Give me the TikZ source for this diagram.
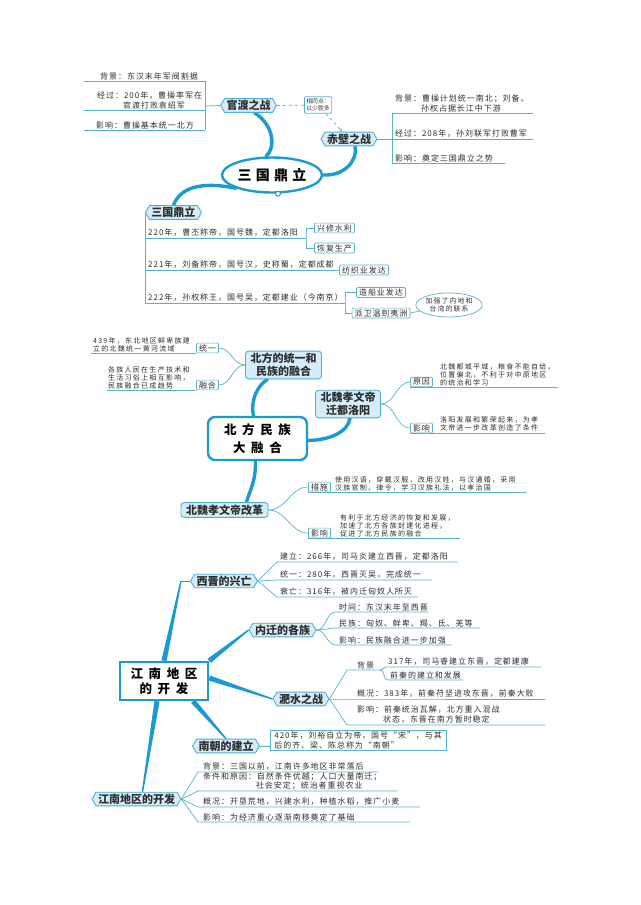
\documentclass[tikz,border=0pt]{standalone}
\usepackage{fontspec}
\setmainfont{Noto Sans CJK SC}
\newfontfamily\cjkn[LetterSpace=12]{Noto Sans CJK SC}
\newfontfamily\cjkm[LetterSpace=18]{Noto Sans CJK SC}
\newfontfamily\cjka[LetterSpace=30]{Noto Sans CJK SC}
\newfontfamily\cjkb[LetterSpace=45]{Noto Sans CJK SC}
\usepackage{tikz}
\usetikzlibrary{arrows.meta,positioning,calc,backgrounds,shapes.geometric,shapes.symbols}
\definecolor{boughc}{HTML}{1B9AD4}
\definecolor{twigc}{HTML}{5AB2C8}
\definecolor{edgec}{HTML}{4FAED3}
\definecolor{fillc}{HTML}{D4EDF8}
\definecolor{inkc}{HTML}{2E2E2E}
% tapering bough: from #1 (half width #3) to #2 (half width #4)
\newcommand{\drawlimb}[4]{\fill[boughc] ($(#1)!#3!90:(#2)$) -- ($(#2)!#4!-90:(#1)$)
  -- ($(#2)!#4!90:(#1)$) -- ($(#1)!#3!-90:(#2)$) -- cycle;}

\begin{document}
\begin{tikzpicture}[x=1pt, y=-1pt,
  twig/.style={draw=twigc, line width=0.7pt},
  bough/.style={draw=boughc, line width=3.4pt, line cap=round},
  hub/.style={draw=boughc, line width=2.4pt, fill=white, text=black, align=center, inner sep=0pt},
  topic/.style={signal, signal to=west and east, signal pointer angle=120, draw=edgec, fill=fillc,
    line width=0.9pt, text=inkc, inner xsep=2pt, inner ysep=1.5pt, font=\bfseries\fontsize{11}{13}\selectfont},
  topicbox/.style={rounded corners=3pt, draw=edgec, fill=fillc, line width=0.9pt, text=inkc,
    align=center, inner xsep=5pt, inner ysep=2pt, font=\bfseries\fontsize{11}{13}\selectfont},
  tagbox/.style={draw=twigc, fill=white, line width=0.7pt, rounded corners=1pt, text=inkc,
    inner xsep=2.5pt, inner ysep=1.2pt, font=\cjkn\fontsize{8}{9.5}\selectfont},
  note/.style={anchor=south west, inner sep=0pt, align=left, text=inkc, font=\cjkn\fontsize{8}{10}\selectfont},
  smallnote/.style={note, font=\cjkm\fontsize{7}{8}\selectfont},
]
\useasboundingbox (0,0) rectangle (640,905);

% ---- part 1 : 三国鼎立 ----
\node[hub, ellipse, minimum width=100pt, minimum height=35pt, font=\cjka\bfseries\fontsize{14}{16}\selectfont] (sg) at (272,175) {三国鼎立};
\node[circle, draw=boughc, fill=white, line width=1pt, minimum size=5pt, inner sep=0pt] (sgknob) at ([xshift=6pt]sg.south) {};

\node[topic] (gd) at (248.5,105.5) {官渡之战};
\node[topic] (cb) at (349,139) {赤壁之战};
\node[tagbox, align=left, inner sep=2pt, font=\fontsize{5.8}{7}\selectfont] (same) at (318,105) {相同点：\\以少胜多};
\draw[twig, dashed] (gd.east) -- (same);
\draw[twig, dashed, -{Stealth[length=4pt,width=3pt]}] (same) -- (cb);

% left bracket of 官渡之战
\coordinate (gdv) at (205,106);
\draw[twig] (gd.west) -- (gdv);
\draw[twig] (205,81) -- (205,130);
\foreach \y in {81,110,130}{\draw[twig] (205,\y) -- ++(-121,0);}
\node[note] (gdn1) at (100,80) {背景：东汉末年军阀割据};
\node[note] (gdn2) at (97,109) {经过：200年，曹操率军在\\\phantom{经过：}官渡打败袁绍军};
\node[note] (gdn3) at (96,129) {影响：曹操基本统一北方};

% right bracket of 赤壁之战
\coordinate (cbv) at (392,139);
\draw[twig] (cb.east) -- (cbv);
\draw[twig] (392,113) -- (392,163);
\draw[twig] (392,113) -- ++(141,0);
\draw[twig] (cbv) -- ++(141,0);
\draw[twig] (392,163) -- ++(113,0);
\node[note] (cbn1) at (395,112) {背景：曹操计划统一南北；刘备、\\\phantom{背景：}孙权占据长江中下游};
\node[note] (cbn2) at (395,138) {经过：208年，孙刘联军打败曹军};
\node[note] (cbn3) at (395,162) {影响：奠定三国鼎立之势};

% the three states
\coordinate (sgL) at (145,212.5);
\node[topic, anchor=west] (sgb) at (sgL) {三国鼎立};
\draw[twig] (sgL) -- (145,303);

\coordinate (b220) at (306,238);
\node[tagbox] (sl) at (334.5,228) {兴修水利};
\node[tagbox] (hf) at (334.5,248) {恢复生产};
\draw[twig] (145,238) -- (b220);
\draw[twig] (sl.west) -| (b220) |- (hf.west);
\node[note] (y220) at (148,237) {220年，曹丕称帝，国号魏，定都洛阳};

\node[tagbox] (fz) at (364,270) {纺织业发达};
\draw[twig] (145,270) -- (fz.west);
\node[note] (y221) at (148,269) {221年，刘备称帝，国号汉，史称蜀，定都成都};

\coordinate (b222) at (345,303);
\node[tagbox] (zc) at (381,292.5) {造船业发达};
\node[tagbox] (wy) at (381,313) {派卫温到夷洲};
\draw[twig] (145,303) -- (b222);
\draw[twig] (zc.west) -| (b222) |- (wy.west);
\node[note] (y222) at (148,302) {222年，孙权称王，国号吴，定都建业（今南京）};
\node[ellipse, draw=twigc, line width=0.7pt, fill=white, inner sep=0pt, minimum width=63pt, minimum height=24pt,
  align=center, text=inkc, font=\cjkm\fontsize{6.8}{8.5}\selectfont] (lx) at (449,305) {加强了内地和\\台湾的联系};
\draw[twig] (wy.east) -- (lx);

% ---- part 2 : 北方民族大融合 ----
\node[hub, rounded corners=7pt, minimum width=99pt, minimum height=43pt, font=\cjkb\bfseries\fontsize{12.5}{18}\selectfont] (bf) at (257.5,438.5) {北方民族\\大融合};

\node[topicbox] (tr) at (283.5,365) {北方的统一和\\民族的融合};
\node[tagbox] (ty) at (207.5,348) {统一};
\node[tagbox] (rh) at (207.5,385) {融合};
\draw[twig] (ty.east) to[out=0,in=180] (tr.west);
\draw[twig] (rh.east) to[out=0,in=180] (tr.west);
\draw[twig] (ty.south west) -- ++(-105,0);
\draw[twig] (rh.south west) -- ++(-89,0);
\node[smallnote] (tyn) at (93,352.5) {439年，东北地区鲜卑族建\\立的北魏统一黄河流域};
\node[smallnote] (rhn) at (108,389.5) {各族人民在生产技术和\\生活习俗上相互影响，\\民族融合已成趋势};

\node[topicbox] (qd) at (348,404) {北魏孝文帝\\迁都洛阳};
\node[tagbox] (yy) at (421.5,382) {原因};
\node[tagbox] (yxa) at (421.5,428) {影响};
\draw[twig] (qd.east) to[out=0,in=180] (yy.west);
\draw[twig] (qd.east) to[out=0,in=180] (yxa.west);
\draw[twig] (yy.south west) -- ++(148,0);
\draw[twig] (yxa.south west) -- ++(135,0);
\node[smallnote] (yyn) at (440,386) {北魏都城平城，粮食不能自给，\\位置偏北，不利于对中原地区\\的统治和学习};
\node[smallnote] (yxan) at (440,431.5) {洛阳发展和繁荣起来，为孝\\文帝进一步改革创造了条件};

\node[topicbox] (gg) at (224.5,510) {北魏孝文帝改革};
\node[tagbox] (cs) at (319.5,487) {措施};
\node[tagbox] (yxb) at (319.5,533) {影响};
\draw[twig] (gg.east) to[out=0,in=180] (cs.west);
\draw[twig] (gg.east) to[out=0,in=180] (yxb.west);
\draw[twig] (cs.south west) -- ++(218,0);
\draw[twig] (yxb.south west) -- ++(152,0);
\node[smallnote] (csn) at (335,491) {使用汉语，穿戴汉服，改用汉姓，与汉通婚，采用\\汉族官制、律令，学习汉族礼法，以孝治国};
\node[smallnote] (yxbn) at (340,537) {有利于北方经济的恢复和发展，\\加速了北方各族封建化进程，\\促进了北方民族的融合};

% ---- part 3 : 江南地区的开发 ----
\node[hub, rectangle, minimum width=88pt, minimum height=38pt, font=\cjkb\bfseries\fontsize{12.5}{15}\selectfont] (jn) at (164,681) {江南地区\\的开发};

\node[topic] (xj) at (224,581) {西晋的兴亡};
\node[topic] (nq) at (282.5,630) {内迁的各族};
\node[topic] (fs) at (301,699) {淝水之战};
\node[topic] (nc) at (226,746) {南朝的建立};
\node[topic] (kf) at (136.5,799) {江南地区的开发};

% 西晋的兴亡
\coordinate (xa) at (277,562);
\coordinate (xb) at (277,580);
\coordinate (xc) at (277,597);
\draw[twig] (xj.east) -- (xa) -- ++(181,0);
\draw[twig] (xj.east) -- (xb) -- ++(155,0);
\draw[twig] (xj.east) -- (xc) -- ++(141,0);
\node[note] (xan) at (280,561) {建立：266年，司马炎建立西晋，定都洛阳};
\node[note] (xbn) at (280,579) {统一：280年，西晋灭吴，完成统一};
\node[note] (xcn) at (280,596) {衰亡：316年，被内迁匈奴人所灭};

% 内迁的各族
\coordinate (nqa) at (336,612);
\coordinate (nqb) at (336,628);
\coordinate (nqc) at (336,645);
\draw[twig] (nq.east) to[out=0,in=180] (nqa) -- ++(92,0);
\draw[twig] (nq.east) to[out=0,in=180] (nqb) -- ++(144,0);
\draw[twig] (nq.east) to[out=0,in=180] (nqc) -- ++(116,0);
\node[note] (nqan) at (339,611) {时间：东汉末年至西晋};
\node[note] (nqbn) at (339,627) {民族：匈奴、鲜卑、羯、氐、羌等};
\node[note] (nqcn) at (339,644) {影响：民族融合进一步加强};

% 淝水之战
\coordinate (fa) at (347,670);
\coordinate (fbk) at (380,670);
\coordinate (fk1) at (386,667);
\coordinate (fk2) at (388,680);
\coordinate (fb) at (347,699);
\coordinate (fc) at (347,725);
\draw[twig] (fs.east) -- (fa) -- (fbk);
\draw[twig] (fbk) to[out=0,in=180] (fk1) -- ++(155,0);
\draw[twig] (fbk) to[out=0,in=180] (fk2) -- ++(75,0);
\draw[twig] (fs.east) -- (fb) -- ++(198,0);
\draw[twig] (fs.east) -- (fc) -- ++(198,0);
\node[note] (fan) at (357,669) {背景};
\node[note] (fk1n) at (388,666) {317年，司马睿建立东晋，定都建康};
\node[note] (fk2n) at (390,679) {前秦的建立和发展};
\node[note] (fbn) at (357,698) {概况：383年，前秦苻坚进攻东晋，前秦大败};
\node[note] (fcn) at (357,724) {影响：前秦统治瓦解，北方重入混战\\\phantom{影响：}状态，东晋在南方暂时稳定};

% 南朝的建立
\node[draw=twigc, line width=0.7pt, fill=white, anchor=west, align=left, inner xsep=4pt, inner ysep=1.5pt,
  text=inkc, font=\cjkn\fontsize{8}{9.5}\selectfont] (ncb) at (270,740.5) {420年，刘裕自立为帝，国号“宋”，与其\\后的齐、梁、陈总称为“南朝”};
\draw[twig] (nc.east) -- (nc.east -| ncb.west);

% 江南地区的开发
\coordinate (ka) at (198,772);
\coordinate (kb) at (198,791);
\coordinate (kc) at (198,807);
\coordinate (kd) at (198,822);
\draw[twig] (kf.east) -- (ka) -- ++(180,0);
\draw[twig] (kf.east) -- (kb) -- ++(199,0);
\draw[twig] (kf.east) -- (kc) -- ++(222,0);
\draw[twig] (kf.east) -- (kd) -- ++(212,0);
\node[note] (kan) at (203,771) {背景：三国以前，江南许多地区非常落后};
\node[note, font=\cjkn\fontsize{8}{9}\selectfont] (kbn) at (203,790) {条件和原因：自然条件优越；人口大量南迁；\\\phantom{条件和原因：}社会安定；统治者重视农业};
\node[note] (kcn) at (203,806) {概况：开垦荒地，兴建水利，种植水稻，推广小麦};
\node[note] (kdn) at (203,821) {影响：为经济重心逐渐南移奠定了基础};

% ---- thick boughs behind the nodes ----
\begin{scope}[on background layer]
\fill[white] (0,0) rectangle (640,905);
\draw[bough] ([xshift=6pt]gd.south) .. controls (274,125) and (276,148) .. ([xshift=-6pt]sg.north);
\draw[bough] ([xshift=6pt]cb.south) .. controls (358,160) and (345,176) .. (sg.east);
\draw[bough] (sg.200) .. controls (200,181) and (180,188) .. (sgb.north);
\draw[bough] ([xshift=-4pt]bf.north) .. controls (250,400) and (258,385) .. ([xshift=-16pt]tr.south);
\draw[bough] ([yshift=-2pt]bf.east) .. controls (330,440) and (348,432) .. ([xshift=2pt]qd.south);
\draw[bough] ([xshift=-2pt]bf.south) .. controls (256,482) and (249,492) .. ([xshift=22pt]gg.north);
\coordinate (xjk) at (181,581);
\coordinate (jnr) at ([yshift=3pt]jn.east);
\coordinate (jnb) at ([xshift=29pt]jn.south);
\coordinate (jnc) at ([xshift=-7pt]jn.south);
\coordinate (kft) at ([xshift=6pt]kf.north);
\drawlimb{jn.north}{xjk}{2.6pt}{0.7pt}
\draw[twig, draw=boughc] (xjk) -- (xj.west);
\drawlimb{jn.north east}{nq.west}{2.6pt}{0.7pt}
\drawlimb{jnr}{fs.west}{2.6pt}{0.7pt}
\drawlimb{jnb}{nc.north}{2.6pt}{0.7pt}
\drawlimb{jnc}{kft}{2.6pt}{0.7pt}
\end{scope}
\end{tikzpicture}
\end{document}
